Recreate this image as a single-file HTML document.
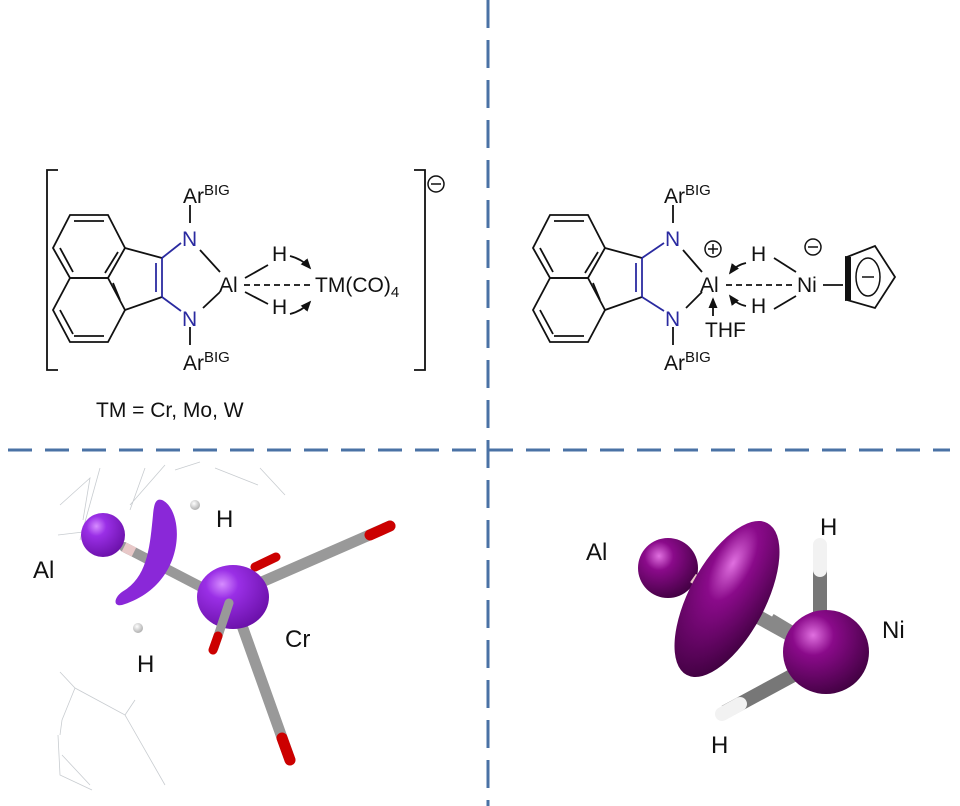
<!DOCTYPE html>
<html><head><meta charset="utf-8"><style>
html,body{margin:0;padding:0;background:#fff;}
svg{display:block;}
text{font-family:"Liberation Sans",sans-serif;fill:#111;}
</style></head><body>
<svg width="960" height="806" viewBox="0 0 960 806" xmlns="http://www.w3.org/2000/svg">
<defs>
<radialGradient id="vi" cx="0.35" cy="0.3" r="0.75"><stop offset="0" stop-color="#d68cff"/><stop offset="0.3" stop-color="#9a2fe6"/><stop offset="1" stop-color="#6a10a8"/></radialGradient>
<radialGradient id="mg" cx="0.35" cy="0.3" r="0.8"><stop offset="0" stop-color="#e070e0"/><stop offset="0.3" stop-color="#8a0a8a"/><stop offset="1" stop-color="#3a003a"/></radialGradient>
<radialGradient id="hb" cx="0.4" cy="0.35" r="0.7"><stop offset="0" stop-color="#fff"/><stop offset="1" stop-color="#aaa"/></radialGradient>
<marker id="ar" markerWidth="7" markerHeight="7" refX="5" refY="2.5" orient="auto"><path d="M0,0 L6,2.5 L0,5 z" fill="#111"/></marker>
</defs>

<!-- dividers -->
<line x1="488" y1="0" x2="488" y2="806" stroke="#4a72a5" stroke-width="3" stroke-dasharray="28,12"/>
<line x1="8" y1="450" x2="950" y2="450" stroke="#4a72a5" stroke-width="3" stroke-dasharray="24,13"/>

<!-- LEFT STRUCTURE -->
<g stroke="#111" stroke-width="1.8" fill="none">
<path d="M58,170 H47 V370 H58"/>
<path d="M414,170 H425 V370 H414"/>
<polygon points="70,215 108,215 125,248 108,278 70,278 53,248"/>
<polygon points="70,278 108,278 125,310 108,342 70,342 53,310"/>
<line x1="74" y1="221" x2="104" y2="221"/><line x1="60" y1="248" x2="73" y2="272"/><line x1="113" y1="283" x2="120" y2="300"/>
<line x1="60" y1="310" x2="73" y2="334"/><line x1="74" y1="336" x2="104" y2="336"/><line x1="118" y1="252" x2="105" y2="273"/>
<line x1="125" y1="248" x2="162" y2="258"/><line x1="125" y1="310" x2="162" y2="297"/>
<line x1="190" y1="205" x2="190" y2="223"/><line x1="190" y1="327" x2="190" y2="345"/>
<line x1="200" y1="250" x2="220" y2="272"/><line x1="203" y1="308" x2="220" y2="292"/>
<line x1="245" y1="278" x2="268" y2="265"/><line x1="245" y1="292" x2="268" y2="304"/>
<line x1="244" y1="285" x2="313" y2="285" stroke-dasharray="6,4"/>
<path d="M290,256 Q302,259 310,268" marker-end="url(#ar)"/>
<path d="M290,314 Q302,311 310,302" marker-end="url(#ar)"/>
</g>
<g stroke="#2a2aa0" stroke-width="1.8">
<line x1="162" y1="258" x2="162" y2="297"/><line x1="156" y1="263" x2="156" y2="292"/>
<line x1="162" y1="258" x2="181" y2="243"/><line x1="162" y1="297" x2="181" y2="311"/>
</g>
<text x="182" y="246" font-size="21" style="fill:#2a2aa0">N</text>
<text x="182" y="326" font-size="21" style="fill:#2a2aa0">N</text>
<text x="183" y="203" font-size="21">Ar<tspan font-size="15" dy="-8">BIG</tspan></text>
<text x="183" y="370" font-size="21">Ar<tspan font-size="15" dy="-8">BIG</tspan></text>
<text x="219" y="292" font-size="21">Al</text>
<text x="272" y="261" font-size="21">H</text>
<text x="272" y="314" font-size="21">H</text>
<text x="315" y="292" font-size="21">TM(CO)<tspan font-size="15" dy="5">4</tspan></text>
<circle cx="436" cy="184" r="8" fill="none" stroke="#111" stroke-width="1.5"/><line x1="431" y1="184" x2="441" y2="184" stroke="#111" stroke-width="1.5"/>
<text x="96" y="417" font-size="21">TM = Cr, Mo, W</text>

<!-- RIGHT STRUCTURE -->
<g transform="translate(480,0)" stroke="#111" stroke-width="1.8" fill="none">
<polygon points="70,215 108,215 125,248 108,278 70,278 53,248"/>
<polygon points="70,278 108,278 125,310 108,342 70,342 53,310"/>
<line x1="74" y1="221" x2="104" y2="221"/><line x1="60" y1="248" x2="73" y2="272"/><line x1="113" y1="283" x2="120" y2="300"/>
<line x1="60" y1="310" x2="73" y2="334"/><line x1="74" y1="336" x2="104" y2="336"/><line x1="118" y1="252" x2="105" y2="273"/>
<line x1="125" y1="248" x2="162" y2="258"/><line x1="125" y1="310" x2="162" y2="297"/>
<line x1="193" y1="205" x2="193" y2="223"/><line x1="193" y1="327" x2="193" y2="345"/>
<line x1="203" y1="250" x2="222" y2="272"/><line x1="206" y1="308" x2="222" y2="292"/>
<g stroke="#2a2aa0"><line x1="162" y1="258" x2="162" y2="297"/><line x1="156" y1="263" x2="156" y2="292"/>
<line x1="162" y1="258" x2="184" y2="243"/><line x1="162" y1="297" x2="184" y2="311"/></g>
</g>
<text x="665" y="246" font-size="21" style="fill:#2a2aa0">N</text>
<text x="665" y="326" font-size="21" style="fill:#2a2aa0">N</text>
<text x="664" y="203" font-size="21">Ar<tspan font-size="15" dy="-8">BIG</tspan></text>
<text x="664" y="370" font-size="21">Ar<tspan font-size="15" dy="-8">BIG</tspan></text>
<text x="700" y="292" font-size="21">Al</text>
<circle cx="713" cy="249" r="8" fill="none" stroke="#111" stroke-width="1.5"/>
<path d="M708,249 H718 M713,244 V254" stroke="#111" stroke-width="1.5"/>
<text x="751" y="261" font-size="21">H</text>
<text x="751" y="313" font-size="21">H</text>
<text x="797" y="292" font-size="21">Ni</text>
<circle cx="813" cy="247" r="8" fill="none" stroke="#111" stroke-width="1.5"/>
<line x1="808" y1="247" x2="818" y2="247" stroke="#111" stroke-width="1.5"/>
<text x="705" y="337" font-size="21">THF</text>
<g stroke="#111" stroke-width="1.8" fill="none">
<line x1="726" y1="285" x2="796" y2="285" stroke-dasharray="6,4"/>
<line x1="774" y1="258" x2="796" y2="272"/><line x1="774" y1="309" x2="796" y2="296"/>
<path d="M746,263 Q736,265 730,273" marker-end="url(#ar)"/>
<path d="M746,306 Q736,304 730,296" marker-end="url(#ar)"/>
<line x1="713" y1="316" x2="713" y2="299" marker-end="url(#ar)"/>
<line x1="823" y1="285" x2="843" y2="285"/>
<polygon points="847,257 875,246 895,277 875,308 847,300"/>
<ellipse cx="868" cy="277" rx="12" ry="19" stroke-width="1.5"/>
<line x1="862" y1="277" x2="874" y2="277" stroke-width="1.5"/>
</g>
<path d="M845,256 L851,257 L851,300 L845,301 Z" fill="#111"/>

<!-- BOTTOM LEFT -->
<g stroke="#c8ccd0" stroke-width="0.8" fill="none">
<path d="M60,505 L90,478 L83,520 M100,468 L80,540 M145,468 L130,510 M165,465 L130,505 M175,470 L200,462 M215,468 L258,485 M260,468 L285,495 M58,535 L100,530 M60,672 L75,688 L125,715 L135,700 M75,688 L62,720 M125,715 L165,785 M58,735 L60,775 L92,790 M62,755 L90,785 M62,720 L60,735"/>
</g>
<line x1="124" y1="547" x2="207" y2="590" stroke="#999" stroke-width="10" stroke-linecap="round"/>
<line x1="124" y1="547" x2="134" y2="552" stroke="#e8c8c8" stroke-width="10"/>
<line x1="255" y1="585" x2="390" y2="526" stroke="#999" stroke-width="11" stroke-linecap="round"/>
<line x1="370" y1="535" x2="390" y2="526" stroke="#c00" stroke-width="11" stroke-linecap="round"/>
<line x1="255" y1="567" x2="276" y2="557" stroke="#c00" stroke-width="9" stroke-linecap="round"/>
<line x1="240" y1="620" x2="290" y2="760" stroke="#999" stroke-width="11" stroke-linecap="round"/>
<line x1="282" y1="738" x2="290" y2="760" stroke="#c00" stroke-width="11" stroke-linecap="round"/>
<circle cx="103" cy="535" r="22" fill="url(#vi)"/>
<path d="M162,500 C185,510 188,585 122,605 C112,607 114,596 125,590 C148,575 150,545 153,515 C154,503 156,498 162,500 Z" fill="#8a28d8"/>
<ellipse cx="233" cy="597" rx="36" ry="32" fill="url(#vi)"/>
<line x1="229" y1="603" x2="214" y2="648" stroke="#999" stroke-width="9" stroke-linecap="round"/>
<line x1="218" y1="636" x2="213" y2="650" stroke="#c00" stroke-width="9" stroke-linecap="round"/>
<circle cx="195" cy="505" r="5" fill="url(#hb)"/>
<circle cx="138" cy="628" r="5" fill="url(#hb)"/>
<text x="33" y="578" font-size="24">Al</text>
<text x="216" y="527" font-size="24">H</text>
<text x="137" y="672" font-size="24">H</text>
<text x="285" y="647" font-size="24">Cr</text>

<!-- BOTTOM RIGHT -->
<line x1="695" y1="582" x2="800" y2="640" stroke="#888" stroke-width="14"/>
<line x1="820" y1="650" x2="820" y2="550" stroke="#777" stroke-width="14"/>
<line x1="820" y1="570" x2="820" y2="545" stroke="#f2f2f2" stroke-width="14" stroke-linecap="round"/>
<line x1="812" y1="665" x2="725" y2="712" stroke="#777" stroke-width="14"/>
<line x1="740" y1="704" x2="722" y2="714" stroke="#f2f2f2" stroke-width="14" stroke-linecap="round"/>
<circle cx="668" cy="568" r="30" fill="url(#mg)"/>
<line x1="693" y1="578" x2="703" y2="585" stroke="#e8c8c8" stroke-width="10"/>
<ellipse cx="727" cy="599" rx="38" ry="86" transform="rotate(28 727 599)" fill="url(#mg)"/>
<line x1="770" y1="620" x2="800" y2="638" stroke="#888" stroke-width="14"/>
<ellipse cx="826" cy="652" rx="43" ry="42" fill="url(#mg)"/>
<text x="586" y="560" font-size="24">Al</text>
<text x="820" y="535" font-size="24">H</text>
<text x="882" y="638" font-size="24">Ni</text>
<text x="711" y="753" font-size="24">H</text>
</svg>
</body></html>
